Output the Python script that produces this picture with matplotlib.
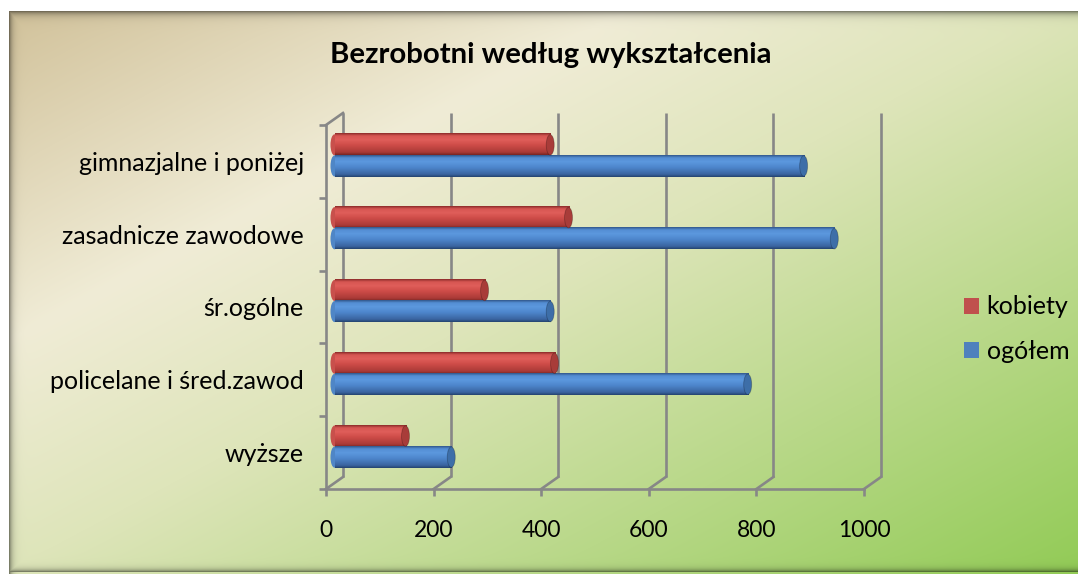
import numpy as np
import matplotlib
matplotlib.use("Agg")
import matplotlib.pyplot as plt
from matplotlib.transforms import ScaledTranslation
from matplotlib.patches import Ellipse, Patch

# ---- data ----
categories = ["wyższe", "policelane i śred.zawod", "śr.ogólne",
              "zasadnicze zawodowe", "gimnazjalne i poniżej"]
ogolem = [217, 768, 401, 929, 872]
kobiety = [132, 409, 279, 435, 401]
series_names = ["kobiety", "ogółem"]
xticks = [0, 200, 400, 600, 800, 1000]
title = "Bezrobotni według wykształcenia"

W, H, DPI = 1078, 574, 100
FONT = "Lato"
GRAY = "#878787"

fig = plt.figure(figsize=(W / DPI, H / DPI), dpi=DPI)

# ---- background gradient with frame shadow ----
bg = fig.add_axes([0, 0, 1, 1], zorder=-10)
bg.set_axis_off()
yy, xx = np.mgrid[0:H, 0:W].astype(float)
t = (xx / W + yy / H) / 2
stops_t = [0.0, 0.3, 0.5, 1.0]
stops_c = [(208, 192, 152), (240, 236, 214), (222, 229, 186), (146, 203, 86)]
img = np.zeros((H, W, 3))
for c in range(3):
    img[..., c] = np.interp(t, stops_t, [s[c] for s in stops_c]) / 255
# inner shadow along frame edges
fx0, fy0, fy1 = 9, 11, 571
shade = np.zeros((H, W))
shade = np.maximum(shade, np.exp(-np.clip(xx - fx0, 0, None) / 3.0) * (xx >= fx0))
shade = np.maximum(shade, np.exp(-np.clip(yy - fy0, 0, None) / 3.5) * (yy >= fy0))
shade = np.maximum(shade, np.exp(-np.clip(fy1 - yy, 0, None) / 2.5) * (yy <= fy1))
img = img * (1 - 0.45 * shade[..., None])
img[:fy0, :, :] = 1.0
img[:, :fx0, :] = 1.0
bg.imshow(img, extent=[0, W, H, 0], aspect="auto", interpolation="bilinear")
bg.set_xlim(0, W)
bg.set_ylim(H, 0)

# ---- main (front plane) axes ----
ax = fig.add_axes([326 / W, 1 - 489 / H, 538 / W, 364 / H])
ax.patch.set_alpha(0)
xmin, xmax = 0, 1000
ymin, ymax = -0.5, len(categories) - 0.5

# pixel -> data conversion for the 3D depth offset
px_x = (xmax - xmin) / 538.0
px_y = (ymax - ymin) / 364.0
DX, DY = 17, 12  # depth in pixels
back = ax.transData + ScaledTranslation(DX / DPI, DY / DPI, fig.dpi_scale_trans)
mid = ax.transData + ScaledTranslation(DX / 2 / DPI, DY / 2 / DPI, fig.dpi_scale_trans)

lw = 1.9
# back wall gridlines
for v in xticks:
    ax.plot([v, v], [ymin, ymax], transform=back, color=GRAY, lw=lw,
            clip_on=False, zorder=1, solid_capstyle="butt")
    # floor diagonals
    ax.plot([v, v + DX * px_x], [ymin, ymin + DY * px_y], color=GRAY, lw=lw,
            clip_on=False, zorder=1)
# left-top diagonal
ax.plot([xmin, xmin + DX * px_x], [ymax, ymax + DY * px_y], color=GRAY, lw=lw,
        clip_on=False, zorder=1)

# ---- cylinder bars ----
def make_grad(stops):
    pos = [p for p, _ in stops]
    cols = np.array([c for _, c in stops]) / 255.0
    n = 64
    s = np.linspace(0, 1, n)
    g = np.zeros((n, 1, 3))
    for c in range(3):
        g[:, 0, c] = np.interp(s, pos, cols[:, c])
    return g

red_grad = make_grad([(0.0, (120, 36, 34)), (0.12, (170, 58, 55)),
                      (0.45, (206, 76, 72)), (0.7, (224, 94, 90)),
                      (0.88, (214, 86, 82)), (1.0, (140, 44, 42))])
blue_grad = make_grad([(0.0, (36, 68, 112)), (0.12, (58, 100, 160)),
                       (0.45, (78, 135, 205)), (0.7, (92, 152, 222)),
                       (0.88, (84, 142, 212)), (1.0, (50, 88, 140))])
red_cap = "#A83C39"
blue_cap = "#3D6EA8"
red_body = "#C8504C"
blue_body = "#4F86C6"

h = 0.29
ypos = np.arange(len(categories))
cap_w = 8 * px_x

for vals, off, grad, capc, bodyc in [
        (kobiety, h / 2, red_grad, red_cap, red_body),
        (ogolem, -h / 2, blue_grad, blue_cap, blue_body)]:
    bars = ax.barh(ypos + off, vals, height=h, color="none", edgecolor="none",
                   transform=mid, zorder=3)
    for b in bars:
        x0, y0, w, hh = b.get_x(), b.get_y(), b.get_width(), b.get_height()
        ax.add_patch(Ellipse((x0, y0 + hh / 2), cap_w, hh, facecolor=bodyc,
                             edgecolor="none", transform=mid, zorder=2.9,
                             clip_on=False))
        ax.imshow(grad, extent=[x0, x0 + w, y0, y0 + hh], origin="lower",
                  aspect="auto", transform=mid, zorder=3,
                  interpolation="bilinear", clip_on=False)
        ax.add_patch(Ellipse((x0 + w, y0 + hh / 2), cap_w, hh * 0.97,
                             facecolor=capc, edgecolor=(0, 0, 0, 0.25), lw=0.6,
                             transform=mid, zorder=3.1, clip_on=False))

ax.set_xlim(xmin, xmax)
ax.set_ylim(ymin, ymax)

# ---- axes styling ----
for s in ["top", "right"]:
    ax.spines[s].set_visible(False)
for s in ["left", "bottom"]:
    ax.spines[s].set_color(GRAY)
    ax.spines[s].set_linewidth(lw)
    ax.spines[s].set_zorder(1.5)

ax.set_xticks(xticks)
ax.set_xticklabels([str(v) for v in xticks], fontsize=16.5, family=FONT)
ax.tick_params(axis="x", which="major", length=5, width=lw, color=GRAY,
               pad=17, labelcolor="black")
ax.set_yticks(np.arange(ymin, ymax + 0.01, 1.0))
ax.set_yticklabels([])
ax.tick_params(axis="y", which="major", length=5, width=lw, color=GRAY)
ax.set_yticks(ypos, minor=True)
ax.set_yticklabels(categories, minor=True, fontsize=18, family=FONT)
ax.tick_params(axis="y", which="minor", length=0, pad=16, labelcolor="black")

# ---- title ----
fig.text(551 / W, 1 - 55 / H, title, ha="center", va="center",
         fontsize=21.2, fontweight="bold", family=FONT)

# ---- legend ----
handles = [Patch(facecolor="#C0504D", edgecolor="none"),
           Patch(facecolor="#4F81BD", edgecolor="none")]
fig.legend(handles, series_names, loc="center left",
           bbox_to_anchor=(954 / W, 1 - 329 / H), frameon=False,
           prop={"family": FONT, "size": 18}, handlelength=0.6,
           handleheight=0.6, handletextpad=0.3, labelspacing=0.85,
           borderaxespad=0)

fig.savefig("out.png", dpi=DPI)
